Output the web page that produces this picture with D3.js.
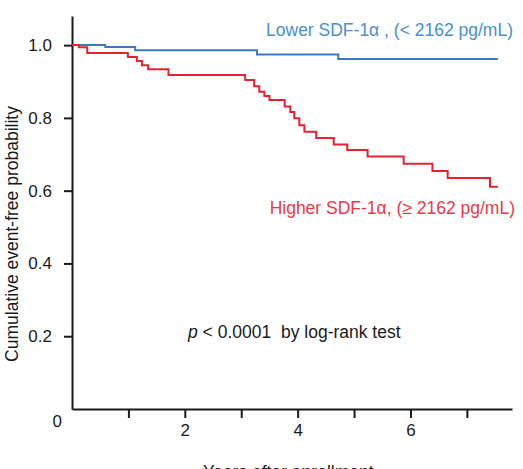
<!DOCTYPE html>
<html>
<head>
<meta charset="utf-8">
<script src="https://cdn.jsdelivr.net/npm/d3@7"></script>
<style>
  body { margin: 0; background: #fff; }
  svg { display: block; font-family: "Liberation Sans", Arial, sans-serif; }
</style>
</head>
<body>
<div id="chart"></div>
<script>
// Kaplan-Meier steps (time in years, survival after the step)
var lowTimes  = [0, 0.59, 1.12, 3.28, 4.72, 7.55];
var lowSurv   = [1.0, 0.995, 0.986, 0.974, 0.962, 0.962];

var highTimes = [0, 0.12, 0.27, 0.99, 1.15, 1.24, 1.35, 1.71, 3.07, 3.23, 3.32, 3.41, 3.50,
                 3.77, 3.87, 3.94, 4.03, 4.12, 4.33, 4.64, 4.88, 5.24, 5.88, 6.39, 6.66, 7.41, 7.55];
var highSurv  = [1.0, 0.994, 0.978, 0.967, 0.956, 0.945, 0.934, 0.918, 0.904, 0.887, 0.872, 0.860, 0.849,
                 0.831, 0.816, 0.799, 0.780, 0.762, 0.745, 0.727, 0.712, 0.694, 0.674, 0.654, 0.635, 0.611, 0.611];

var yTicks = [0, 0.2, 0.4, 0.6, 0.8, 1.0];
var xTicks = [1, 2, 3, 4, 5, 6, 7];
var xLabelled = [2, 4, 6];

var width = 523, height = 469;

var svg = d3.select("#chart").append("svg")
  .attr("width", width)
  .attr("height", height);

var x = d3.scaleLinear().domain([0, 7.8]).range([72, 512]);
var y = d3.scaleLinear().domain([0, 1.08]).range([409, 16]);

// x axis
var xAxis = svg.append("g")
  .attr("transform", "translate(0," + y(0) + ")")
  .call(d3.axisBottom(x)
    .tickValues(xTicks)
    .tickSize(9)
    .tickSizeOuter(0)
    .tickPadding(6)
    .tickFormat(function (d) { return xLabelled.indexOf(d) >= 0 ? d : ""; }));

// y axis
var yAxis = svg.append("g")
  .attr("transform", "translate(" + x(0) + ",0)")
  .call(d3.axisLeft(y)
    .tickValues(yTicks)
    .tickSize(8)
    .tickSizeOuter(0)
    .tickPadding(12)
    .tickFormat(function (d) { return d === 0 ? "0" : d3.format(".1f")(d); }));

[xAxis, yAxis].forEach(function (g) {
  g.select(".domain").attr("stroke", "#1a1a1a").attr("stroke-width", 2);
  g.selectAll(".tick line").attr("stroke", "#1a1a1a").attr("stroke-width", 2);
  g.selectAll(".tick text").attr("fill", "#1a1a1a").style("font-size", "17px");
});

// the 0 label sits below the corner, no tick mark
yAxis.selectAll(".tick").filter(function (d) { return d === 0; })
  .each(function () {
    d3.select(this).select("line").remove();
    d3.select(this).select("text").attr("x", -10).attr("dy", "1.0em");
  });

var line = d3.line()
  .curve(d3.curveStepAfter)
  .x(function (d) { return x(d[0]); })
  .y(function (d) { return y(d[1]); });

svg.append("path")
  .datum(d3.zip(lowTimes, lowSurv))
  .attr("fill", "none")
  .attr("stroke", "#3a7bbf")
  .attr("stroke-width", 2)
  .attr("d", line);

svg.append("path")
  .datum(d3.zip(highTimes, highSurv))
  .attr("fill", "none")
  .attr("stroke", "#e52330")
  .attr("stroke-width", 2)
  .attr("d", line);

// labels
svg.append("text")
  .attr("x", 513).attr("y", 36)
  .attr("text-anchor", "end")
  .attr("fill", "#4b8fcf")
  .style("font-size", "17.5px")
  .text("Lower SDF-1\u03b1 , (< 2162 pg/mL)");

svg.append("text")
  .attr("x", 515).attr("y", 214)
  .attr("text-anchor", "end")
  .attr("fill", "#e83a46")
  .style("font-size", "17.5px")
  .text("Higher SDF-1\u03b1, (\u2265 2162 pg/mL)");

var pt = svg.append("text")
  .attr("x", 188).attr("y", 338)
  .attr("fill", "#1a1a1a")
  .style("font-size", "17.5px");
pt.append("tspan").style("font-style", "italic").text("p");
pt.append("tspan").text(" < 0.0001  by log-rank test").attr("xml:space", "preserve");

svg.append("text")
  .attr("transform", "translate(18,234) rotate(-90)")
  .attr("text-anchor", "middle")
  .attr("fill", "#1a1a1a")
  .style("font-size", "17.5px")
  .text("Cumulative event-free probability");

svg.append("text")
  .attr("x", 203).attr("y", 478)
  .attr("fill", "#1a1a1a")
  .style("font-size", "17.5px")
  .text("Years after enrollment");
</script>
</body>
</html>
